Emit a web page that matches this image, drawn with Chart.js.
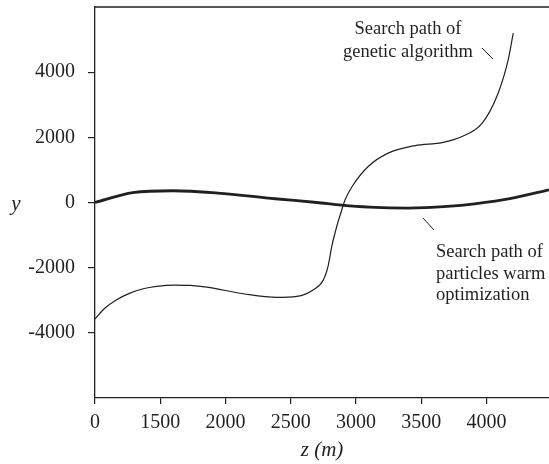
<!DOCTYPE html>
<html lang="en">
<head>
<meta charset="UTF-8">
<title>Search paths</title>
<script src="https://cdn.jsdelivr.net/npm/chart.js"></script>
<style>
    html, body { margin: 0; padding: 0; background: #fff; overflow: hidden; }
    #wrap { width: 549px; height: 464px; }
</style>
</head>
<body>
<div id="wrap"><canvas id="pathChart" width="549" height="464"></canvas></div>
<script>
// Data (x in axis units, first tick at 1000 is labelled "0")
const gaX = [1000, 1077, 1166, 1268, 1370, 1473, 1600, 1729, 1857, 2137, 2393, 2547, 2674, 2751, 2789, 2815, 2853, 2892, 2917, 2971, 3094, 3247, 3454, 3661, 3814, 3968, 4090, 4167, 4206];
const gaY = [-3576, -3240, -2985, -2780, -2648, -2576, -2533, -2546, -2600, -2800, -2913, -2883, -2677, -2371, -1911, -1349, -736, -224, 83, 491, 1104, 1515, 1748, 1840, 2024, 2435, 3355, 4377, 5195];

const psoX = [1000, 1290, 1600, 1940, 2380, 2700, 2890, 3100, 3400, 3700, 3910, 4200, 4480];
const psoY = [0, 300, 360, 290, 115, 0, -80, -140, -170, -120, -40, 135, 390];

const xTickValues = [1000, 1500, 2000, 2500, 3000, 3500, 4000];
const xTickLabels = ['0', '1500', '2000', '2500', '3000', '3500', '4000'];
const yTickValues = [-4000, -2000, 0, 2000, 4000];

const ink = '#231f20';
const serif = '"Liberation Serif", "DejaVu Serif", serif';

function toPoints(xs, ys) {
    return xs.map((x, i) => ({ x: x, y: ys[i] }));
}

// plugin: top line, axis titles and the two callouts
const extras = {
    id: 'extras',
    afterDraw(chart) {
        const ctx = chart.ctx;
        const a = chart.chartArea;
        ctx.save();
        ctx.strokeStyle = ink;
        ctx.lineWidth = 1.3;
        ctx.beginPath();
        ctx.moveTo(a.left, a.top);
        ctx.lineTo(a.right, a.top);
        ctx.stroke();

        ctx.fillStyle = ink;
        ctx.font = 'italic 21px ' + serif;
        ctx.textAlign = 'center';
        ctx.textBaseline = 'middle';
        ctx.fillText('y', 16, 204);
        ctx.fillText('z (m)', 322, 450);

        ctx.font = '18.5px ' + serif;
        ctx.fillText('Search path of', 408, 29);
        ctx.fillText('genetic algorithm', 408, 52);

        ctx.textAlign = 'left';
        ctx.fillText('Search path of', 436, 252);
        ctx.fillText('particles warm', 436, 274);
        ctx.fillText('optimization', 436, 295);

        ctx.lineWidth = 1;
        ctx.beginPath();
        ctx.moveTo(482, 48);
        ctx.lineTo(493, 59);
        ctx.moveTo(423, 218);
        ctx.lineTo(434, 230);
        ctx.stroke();
        ctx.restore();
    }
};

new Chart(document.getElementById('pathChart'), {
    type: 'scatter',
    data: {
        datasets: [
            {
                label: 'Search path of genetic algorithm',
                data: toPoints(gaX, gaY),
                showLine: true,
                borderColor: ink,
                borderWidth: 1.2,
                pointRadius: 0,
                cubicInterpolationMode: 'monotone'
            },
            {
                label: 'Search path of particles warm optimization',
                data: toPoints(psoX, psoY),
                showLine: true,
                borderColor: ink,
                borderWidth: 2.8,
                pointRadius: 0,
                cubicInterpolationMode: 'monotone'
            }
        ]
    },
    options: {
        responsive: false,
        animation: false,
        layout: { padding: { top: 7, right: 0, left: 0, bottom: 0 } },
        plugins: {
            legend: { display: false },
            tooltip: { enabled: false }
        },
        scales: {
            x: {
                type: 'linear',
                min: 1000,
                max: 4480,
                afterFit: (s) => { s.height = 66; s.paddingLeft = 0; s.paddingRight = 0; },
                afterBuildTicks: (s) => { s.ticks = xTickValues.map(v => ({ value: v })); },
                ticks: {
                    color: ink,
                    font: { family: serif, size: 20 },
                    padding: 7,
                    maxRotation: 0,
                    callback: (v) => xTickLabels[xTickValues.indexOf(v)]
                },
                grid: { drawOnChartArea: false, drawTicks: true, tickLength: 6, color: ink, lineWidth: 1.2 },
                border: { display: true, color: ink, width: 1.3 }
            },
            y: {
                min: -6000,
                max: 6000,
                afterFit: (s) => { s.width = 95; s.paddingTop = 0; s.paddingBottom = 0; },
                afterBuildTicks: (s) => { s.ticks = yTickValues.map(v => ({ value: v })); },
                ticks: {
                    color: ink,
                    font: { family: serif, size: 20 },
                    padding: 13,
                    callback: (v) => String(v)
                },
                grid: { drawOnChartArea: false, drawTicks: true, tickLength: 7, color: ink, lineWidth: 1.2 },
                border: { display: true, color: ink, width: 1.3 }
            }
        }
    },
    plugins: [extras]
});
</script>
</body>
</html>
